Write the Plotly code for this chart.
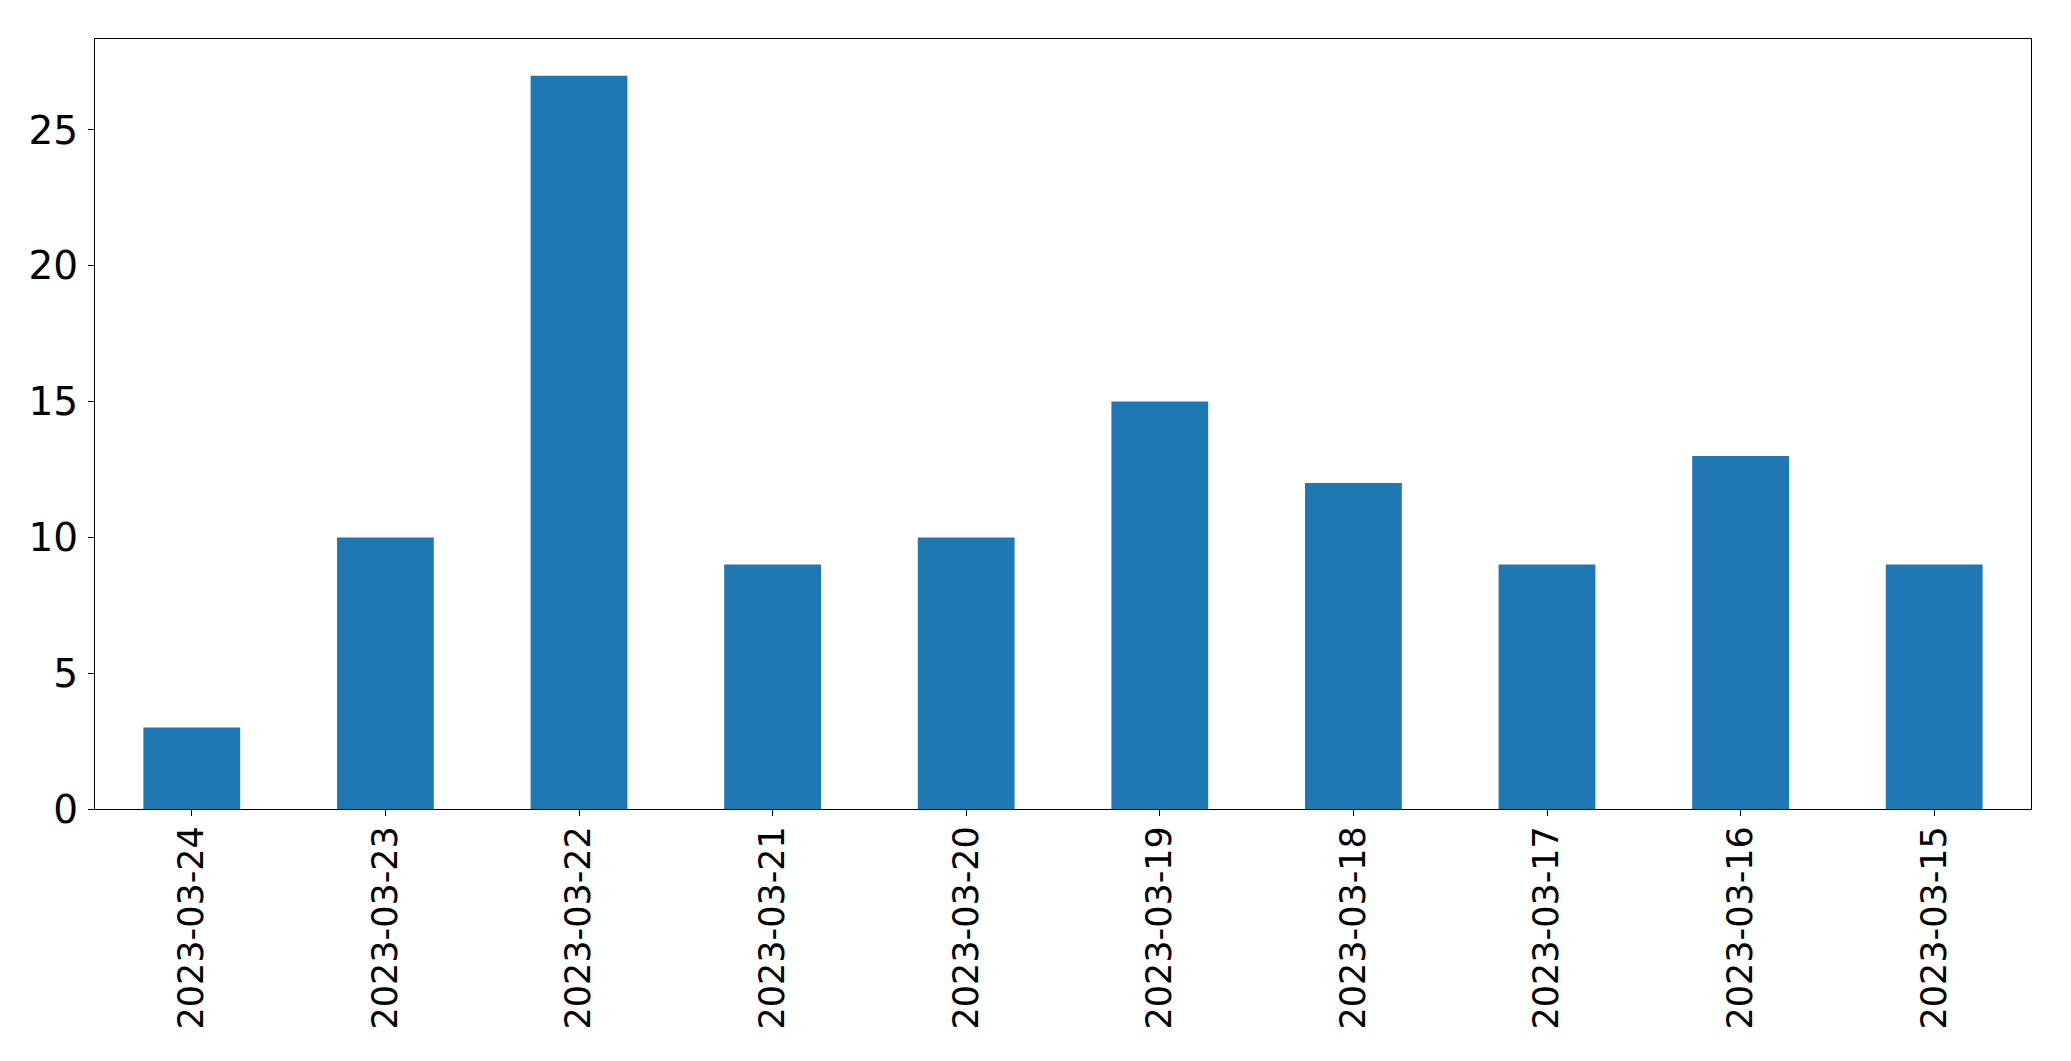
import plotly.graph_objects as go

dates = ["2023-03-24", "2023-03-23", "2023-03-22", "2023-03-21", "2023-03-20",
         "2023-03-19", "2023-03-18", "2023-03-17", "2023-03-16", "2023-03-15"]
counts = [3, 10, 27, 9, 10, 15, 12, 9, 13, 9]

fig = go.Figure(go.Bar(x=list(range(len(dates))), y=counts, width=0.5,
                       marker=dict(color="#1f77b4", line=dict(width=0))))

fig.update_layout(
    width=2055, height=1045,
    margin=dict(l=87, r=32, t=31, b=244, pad=0),
    paper_bgcolor="white", plot_bgcolor="white",
    showlegend=False,
    font=dict(family="DejaVu Sans", size=34, color="black"),
)
fig.update_xaxes(
    range=[-0.5, 9.5], tickmode="array", tickvals=list(range(len(dates))), ticktext=dates,
    tickangle=-90, ticks="outside", ticklen=6, tickwidth=1.3, tickcolor="black",
    showline=True, linecolor="black", linewidth=1.3, mirror=True,
    showgrid=False, zeroline=False, ticklabelstandoff=-4,
    tickfont=dict(size=35),
)
fig.update_yaxes(
    range=[0, 28.35], tickmode="array", tickvals=[0, 5, 10, 15, 20, 25],
    ticks="outside", ticklen=6, tickwidth=1.3, tickcolor="black",
    showline=True, linecolor="black", linewidth=1.3, mirror=True,
    showgrid=False, zeroline=False, ticklabelstandoff=2,
    tickfont=dict(size=39),
)
fig.write_html("out.html")
